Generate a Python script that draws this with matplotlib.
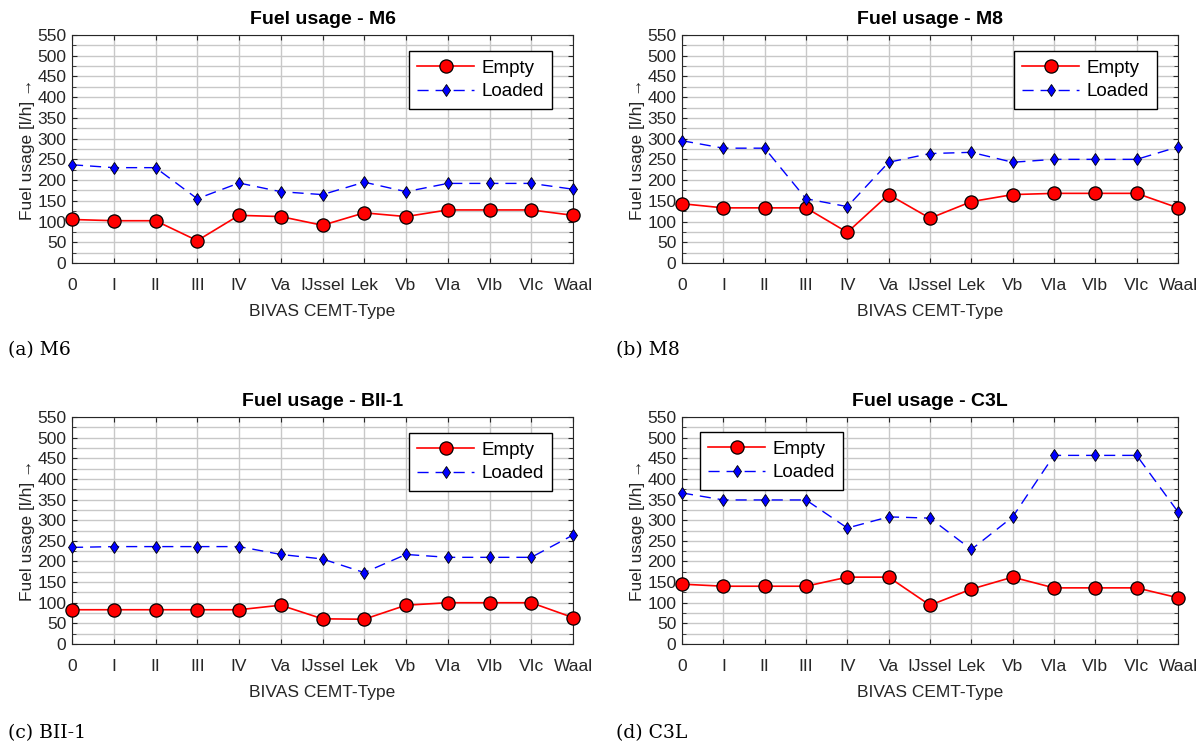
import matplotlib
matplotlib.use("Agg")
import matplotlib.pyplot as plt
from matplotlib.ticker import MultipleLocator

plt.rcParams['font.family'] = ['Liberation Sans', 'DejaVu Sans']

# Data
types = ["0", "I", "II", "III", "IV", "Va", "IJssel", "Lek", "Vb", "VIa", "VIb", "VIc", "Waal"]

m6_empty = [105, 102, 102, 54, 115, 112, 91, 121, 112, 128, 128, 128, 115]
m6_loaded = [237, 230, 230, 155, 193, 172, 165, 195, 172, 192, 192, 192, 178]

m8_empty = [143, 133, 133, 133, 74, 165, 108, 148, 165, 168, 168, 168, 133]
m8_loaded = [295, 277, 277, 155, 136, 243, 264, 267, 243, 250, 250, 250, 280]

bii_empty = [83, 83, 83, 83, 83, 94, 61, 60, 94, 100, 100, 100, 64]
bii_loaded = [234, 236, 236, 236, 236, 217, 206, 173, 217, 210, 210, 210, 264]

c3l_empty = [145, 140, 140, 140, 162, 162, 94, 133, 162, 136, 136, 136, 112]
c3l_loaded = [366, 349, 349, 349, 281, 308, 305, 229, 308, 457, 457, 457, 320]

panels = [
    ("M6", m6_empty, m6_loaded, "(a) M6", "right"),
    ("M8", m8_empty, m8_loaded, "(b) M8", "right"),
    ("BII-1", bii_empty, bii_loaded, "(c) BII-1", "right"),
    ("C3L", c3l_empty, c3l_loaded, "(d) C3L", "left"),
]

W, H = 1203, 744
fig = plt.figure(figsize=(W / 100, H / 100), dpi=100)

# axes boxes in pixels: left, top, right, bottom
boxes = [(72, 35, 573, 263), (682, 35, 1178, 263),
         (72, 417, 573, 644), (682, 417, 1178, 644)]
caps = [(8, 350), (616, 350), (8, 733), (616, 733)]

for (name, emp, lod, cap, side), (l, t, r, b), (cx, cy) in zip(panels, boxes, caps):
    aw, ah = r - l, b - t
    ax = fig.add_axes([l / W, 1 - b / H, aw / W, ah / H])
    x = list(range(len(types)))
    ax.plot(x, emp, '-', color='red', lw=1.2, marker='o', ms=9.5,
            mfc='red', mec='black', mew=0.9, label="Empty", zorder=3, clip_on=False)
    ax.plot(x, lod, color='blue', lw=1.0, ls=(0, (8, 5)), marker='d', ms=6,
            mfc='blue', mec='black', mew=0.6, label="Loaded", zorder=3, clip_on=False)
    ax.set_xlim(0, len(types) - 1)
    ax.set_ylim(0, 550)
    ax.set_xticks(x)
    ax.set_xticklabels(types)
    ax.yaxis.set_major_locator(MultipleLocator(50))
    ax.yaxis.set_minor_locator(MultipleLocator(25))
    ax.grid(True, which='both', color='#c8c8c8', lw=1.0)
    ax.set_axisbelow(True)
    ax.tick_params(direction='in', which='both', top=True, right=True,
                   labelsize=12.5, colors='#262626')
    ax.tick_params(axis='x', pad=11)
    ax.tick_params(axis='y', pad=4)
    ax.tick_params(which='minor', length=3)
    for s in ax.spines.values():
        s.set_color('#262626')
    ax.set_title(f"Fuel usage - {name}", fontsize=14, fontweight='bold', pad=8)
    ax.set_xlabel("BIVAS CEMT-Type", fontsize=12.5, color='#262626', labelpad=8)
    ax.set_ylabel("Fuel usage [l/h] \u2192", fontsize=12.5, color='#262626', labelpad=2)
    if side == "right":
        lloc, anchor = "upper right", (1 - 21 / aw, 1 - 16 / ah)
    else:
        lloc, anchor = "upper left", (18 / aw, 1 - 15 / ah)
    leg = ax.legend(loc=lloc, bbox_to_anchor=anchor, borderaxespad=0,
                    fontsize=13.5, fancybox=False, framealpha=1,
                    edgecolor='black', handlelength=3.0, handletextpad=0.4,
                    borderpad=0.45, labelspacing=0.35)
    leg.get_frame().set_linewidth(1.0)
    fig.text(cx / W, 1 - cy / H, cap, fontsize=13.5, family='DejaVu Serif',
             va='center', ha='left')

fig.savefig("out.png", dpi=100)
